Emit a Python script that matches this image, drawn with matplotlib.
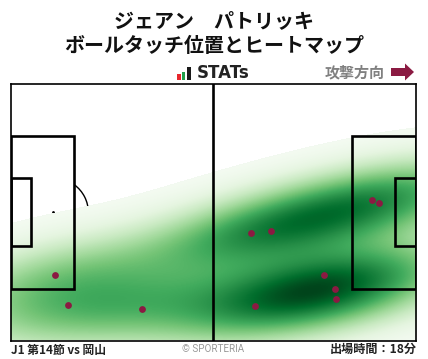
import numpy as np
import matplotlib
matplotlib.use('Agg')
import matplotlib.pyplot as plt
from matplotlib.patches import Rectangle, Arc, FancyArrow, Circle

plt.rcParams['font.family'] = ['Noto Sans CJK JP', 'DejaVu Sans']

title_lines = ['ジェアン　パトリッキ', 'ボールタッチ位置とヒートマップ']
footer_left = 'J1 第14節 vs 岡山'
footer_right = '出場時間：18分'
credit = '© SPORTERIA'
direction = '攻撃方向'
logo = 'STATs'

touch_x = [11.4, 14.8, 34.0, 62.3, 67.5, 93.7, 95.5, 81.2, 84.1, 84.4, 63.4]
touch_y = [17.4, 9.5, 8.4, 28.6, 28.9, 37.3, 36.5, 17.4, 13.7, 11.0, 9.2]

W, H = 428, 359
fig = plt.figure(figsize=(W/100, H/100), dpi=100)

ov = fig.add_axes([0, 0, 1, 1], zorder=0)
ov.set_xlim(0, W); ov.set_ylim(H, 0); ov.axis('off')
ov.text(214, 21, title_lines[0], ha='center', va='center', fontsize=14.4, fontweight='bold', color='#111111')
ov.text(214, 46, title_lines[1], ha='center', va='center', fontsize=14.4, fontweight='bold', color='#111111')
ov.add_patch(Rectangle((177, 74), 4, 5.5, color='#e8262c', lw=0))
ov.add_patch(Rectangle((182, 72), 3.5, 7.5, color='#22a04a', lw=0))
ov.add_patch(Rectangle((187, 67), 4, 12.5, color='#1a1a1a', lw=0))
ov.text(196.5, 73.5, logo, ha='left', va='center', fontsize=12, fontweight='bold', color='#222222', family='DejaVu Sans')
ov.text(385, 72, direction, ha='right', va='center', fontsize=10.8, fontweight='bold', color='#808080')
ov.add_patch(FancyArrow(391, 72, 23, 0, width=8, head_width=17, head_length=9,
                        length_includes_head=True, color='#8b1a42', lw=0))
ov.text(11, 350, footer_left, ha='left', va='center', fontsize=8.5, fontweight='bold', color='#222222')
ov.text(417, 349, footer_right, ha='right', va='center', fontsize=8.7, fontweight='bold', color='#222222')
ov.text(213, 348.5, credit, ha='center', va='center', fontsize=7.1, color='#999999', family=['Roboto', 'DejaVu Sans'])

ax = fig.add_axes([10.5/W, 1-340.5/H, 405.5/W, 256.5/H], zorder=1)
L, Wd = 105.0, 68.0
ax.set_xlim(0, L); ax.set_ylim(0, Wd)
ax.set_xticks([]); ax.set_yticks([])
for s in ax.spines.values():
    s.set_linewidth(1.2); s.set_color('black'); s.set_zorder(10)

# markings that the heat map covers
arc_kw = dict(color='black', lw=1.0, zorder=1)
ax.add_patch(Arc((11, 34), 18.3, 18.3, theta1=-53, theta2=53, **arc_kw))
ax.add_patch(Arc((94, 34), 18.3, 18.3, theta1=127, theta2=233, **arc_kw))
ax.add_patch(Circle((52.5, 34), 9.15, fill=False, **arc_kw))
ax.plot([11, 94], [34, 34], 'o', ms=1, color='black', zorder=1)

# kernel density of the touches, full covariance
pts = np.array([touch_x, touch_y])
cov = np.cov(pts) * pts.shape[1] ** (-2 / 6)
inv = np.linalg.inv(cov)
gx, gy = np.meshgrid(np.linspace(0, L, 406), np.linspace(0, Wd, 257))
dens = np.zeros_like(gx)
for px, py in pts.T:
    dx, dy = gx - px, gy - py
    dens += np.exp(-0.5 * (inv[0, 0]*dx*dx + 2*inv[0, 1]*dx*dy + inv[1, 1]*dy*dy))
dens /= dens.max()
shade = dens ** 0.85
masked = np.ma.masked_where(dens < 0.012, shade)
ax.imshow(masked, origin='lower', extent=[0, L, 0, Wd], cmap='Greens', vmin=0.0, vmax=1.0,
          aspect='auto', zorder=2, interpolation='bilinear')

# markings above the heat map
box_kw = dict(fill=False, ec='black', lw=1.9, zorder=3)
ax.add_patch(Rectangle((0, 13.6), 16.4, 40.6, **box_kw))
ax.add_patch(Rectangle((0, 25.0), 5.2, 18.1, **box_kw))
ax.add_patch(Rectangle((L-16.6, 13.6), 16.6, 40.6, **box_kw))
ax.add_patch(Rectangle((L-5.4, 25.0), 5.4, 18.1, **box_kw))
ax.plot([52.45, 52.45], [0, Wd], color='black', lw=1.9, zorder=3)

ax.scatter(touch_x, touch_y, s=24, color='#8b1a42', lw=0, zorder=5)

fig.savefig('out.png', dpi=100)
